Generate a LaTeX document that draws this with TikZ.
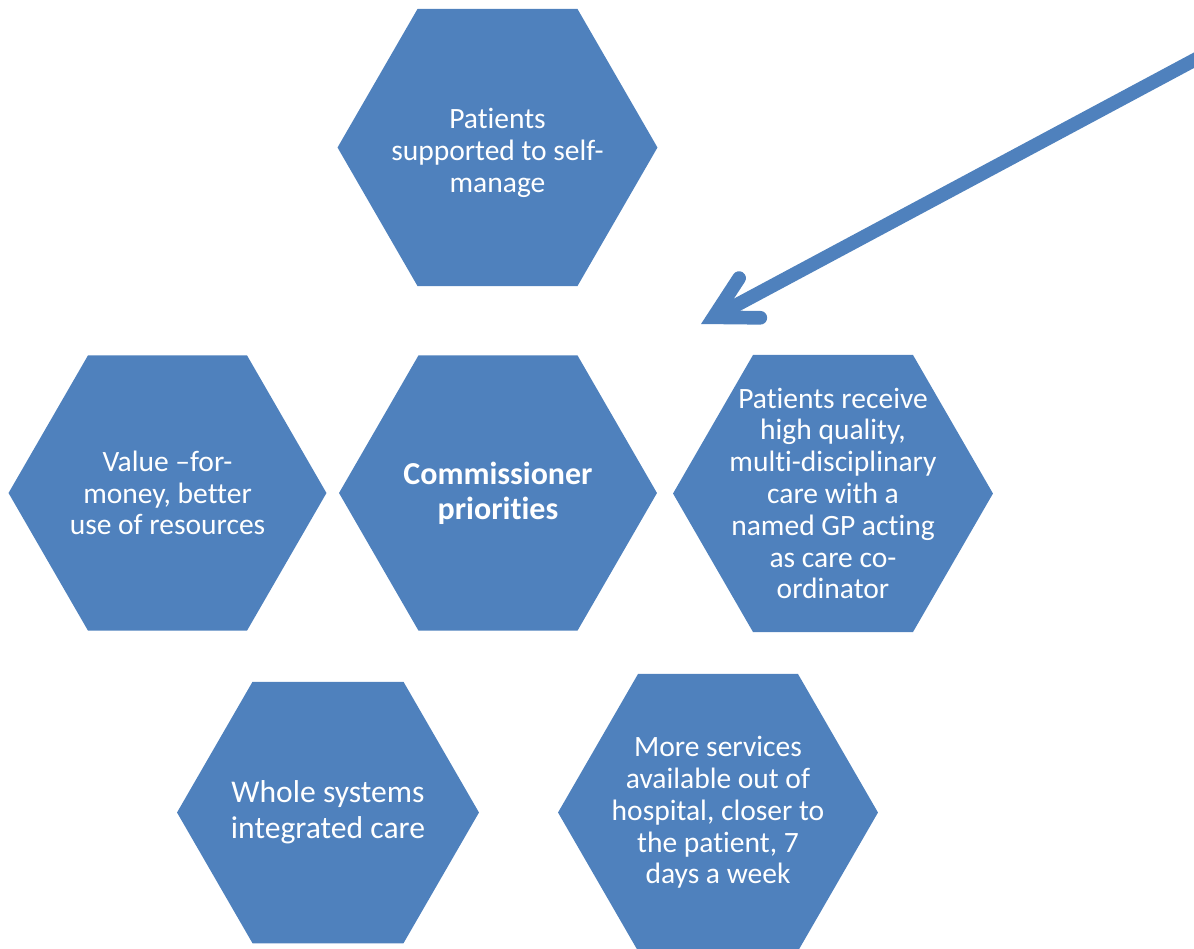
\documentclass[tikz,border=0pt]{standalone}
\usepackage{fontspec}
\setmainfont{Carlito}[Ligatures={TeX,NoCommon}]
\usetikzlibrary{shapes.geometric,arrows.meta}
\definecolor{hexblue}{HTML}{4F81BD}

\tikzset{
    hexagon/.style={
        regular polygon,regular polygon sides=6,
        fill=hexblue,inner sep=0pt,
        minimum size=6.4cm
    },
    hexagon text/.style={
        text=white,align=center,inner sep=0pt,
        font=\fontsize{16.8}{18.1}\selectfont
    },
    pointer/.style={
        draw=hexblue,line width=7.8pt,
        -{Straight Barb[length=.82cm,width=.9cm,line cap=round,line join=miter]}
    }
}

\begin{document}
\begin{tikzpicture}[x=.02cm,y=-.02cm]
        \useasboundingbox (0,0) rectangle (1194,948);
        % the six hexagons
        \node[hexagon] (self manage) at (497.5,147.5) {};
        \node[hexagon,minimum size=6.36cm] (value) at (167.5,493) {};
        \node[hexagon,minimum size=6.36cm] (commissioner) at (498,493) {};
        \node[hexagon] (quality) at (833,493.5) {};
        \node[hexagon,minimum size=6.04cm] (whole systems) at (328,812.5) {};
        \node[hexagon] (services) at (718,812.5) {};
        % their texts
        \node[hexagon text] (self manage text) at ([yshift=-3pt]self manage) {Patients\\supported to self-\\manage};
        \node[hexagon text] (value text) at (value) {Value –for-\\money, better\\use of resources};
        \node[hexagon text,font=\bfseries\fontsize{18.2}{19.8}\selectfont] (commissioner text) at (commissioner) {Commissioner\\priorities};
        \node[hexagon text] (quality text) at (quality) {Patients receive\\high quality,\\multi-disciplinary\\care with a\\named GP acting\\as care co-\\ordinator};
        \node[hexagon text,font=\fontsize{18}{20.4}\selectfont] (whole systems text) at (whole systems) {Whole systems\\integrated care};
        \node[hexagon text] (services text) at (services) {More services\\available out of\\hospital, closer to\\the patient, 7\\days a week};
        % the arrow
        \coordinate (arrow start) at (1200,57);
        \coordinate (arrow tip) at (701,324);
        \draw[pointer] (arrow start) -- (arrow tip);
\end{tikzpicture}
\end{document}
